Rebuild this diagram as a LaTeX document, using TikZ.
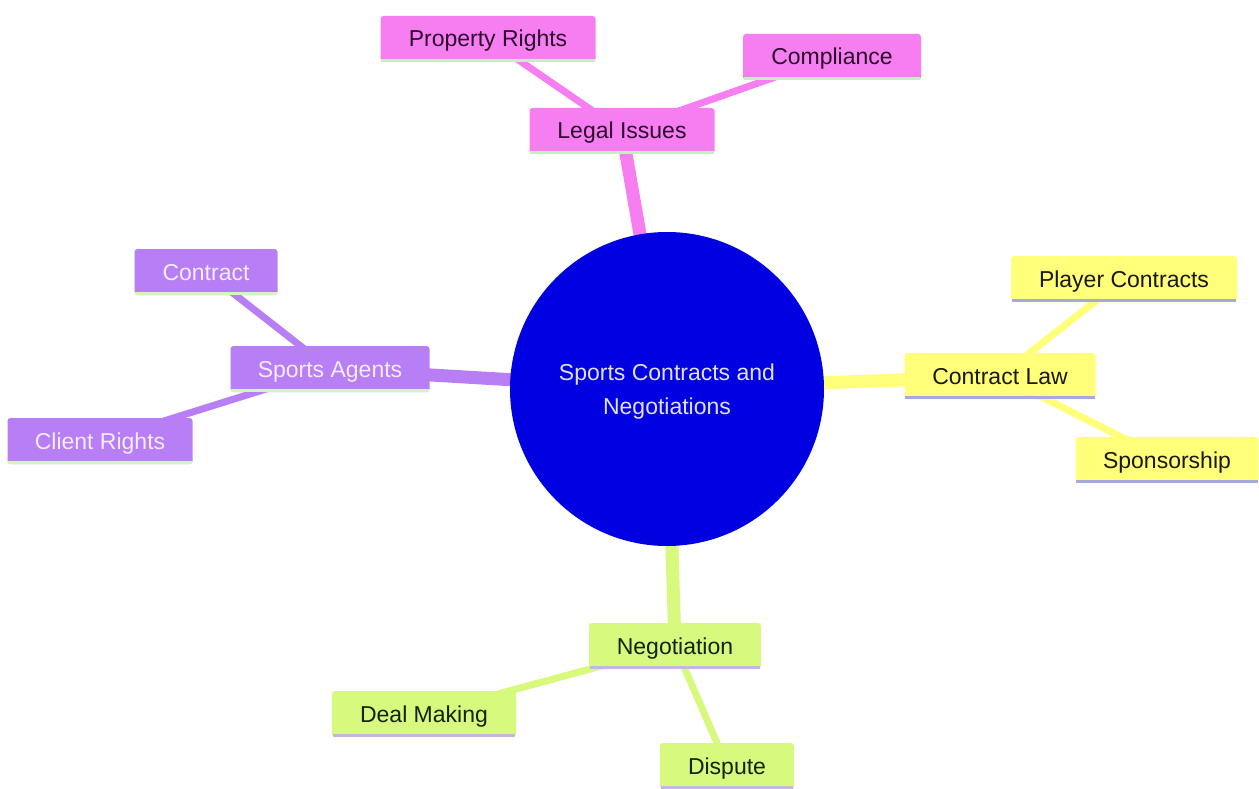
\documentclass[tikz,border=0pt]{standalone}
\usepackage{fontspec}
\setmainfont{Liberation Sans}
\definecolor{rootblue}{RGB}{0,0,224}
\definecolor{roottext}{RGB}{225,225,255}
\definecolor{pinkc}{RGB}{246,126,240}
\definecolor{purplec}{RGB}{183,126,246}
\definecolor{yellowc}{RGB}{255,255,122}
\definecolor{greenc}{RGB}{214,249,126}
\definecolor{pinkul}{RGB}{196,240,190}
\definecolor{purpleul}{RGB}{214,245,190}
\definecolor{yellowul}{RGB}{168,168,224}
\definecolor{greenul}{RGB}{200,180,226}
\definecolor{darkpink}{RGB}{45,8,45}
\definecolor{lightpurple}{RGB}{245,236,255}
\definecolor{darkyellow}{RGB}{25,25,5}
\definecolor{darkgreen}{RGB}{20,35,10}
\pgfdeclarelayer{bg}
\pgfsetlayers{bg,main}
\begin{document}
\begin{tikzpicture}[x=1pt,y=-1pt,
  every node/.style={font=\fontsize{23}{27}\selectfont},
  box/.style n args={3}{rectangle, rounded corners=3pt, fill=#1, text=#2, minimum height=46pt, minimum width=#3, inner sep=0pt, text height=20pt, text depth=4pt},
  pinkbox/.style={box={pinkc}{darkpink}{#1}},
  purplebox/.style={box={purplec}{lightpurple}{#1}},
  yellowbox/.style={box={yellowc}{darkyellow}{#1}},
  greenbox/.style={box={greenc}{darkgreen}{#1}},
  ul/.style={draw=#1, line width=3.5pt},
  thick1/.style={line width=13pt, draw=#1},
  thick2/.style={line width=7pt, draw=#1}]
\useasboundingbox (0,0) rectangle (1259,789);
% nodes
\node[circle, fill=rootblue, minimum size=314pt, inner sep=0pt] (root) at (667,389) {};
\node[text=roottext, align=center] (roottxt) at (667,392) {Sports Contracts and\\[7pt]Negotiations};
\node[pinkbox=185pt] (legal) at (622,131) {Legal Issues};
\node[pinkbox=215pt] (prop) at (488,39) {Property Rights};
\node[pinkbox=178pt] (comp) at (832,57) {Compliance};
\node[purplebox=199pt] (agents) at (330,369) {Sports Agents};
\node[purplebox=143pt] (contract) at (206,272) {Contract};
\node[purplebox=185pt] (client) at (100,441) {Client Rights};
\node[yellowbox=191pt] (law) at (1000,376) {Contract Law};
\node[yellowbox=226pt] (player) at (1124,279) {Player Contracts};
\node[yellowbox=183pt] (spons) at (1167,460) {Sponsorship};
\node[greenbox=172pt] (neg) at (675,646) {Negotiation};
\node[greenbox=184pt] (deal) at (424,714) {Deal Making};
\node[greenbox=134pt] (disp) at (727,766) {Dispute};
% underlines
\draw[ul=pinkul] ([shift={(1,-1.75)}]legal.south west) -- ([shift={(-1,-1.75)}]legal.south east);
\draw[ul=pinkul] ([shift={(1,-1.75)}]prop.south west) -- ([shift={(-1,-1.75)}]prop.south east);
\draw[ul=pinkul] ([shift={(1,-1.75)}]comp.south west) -- ([shift={(-1,-1.75)}]comp.south east);
\draw[ul=purpleul] ([shift={(1,-1.75)}]agents.south west) -- ([shift={(-1,-1.75)}]agents.south east);
\draw[ul=purpleul] ([shift={(1,-1.75)}]contract.south west) -- ([shift={(-1,-1.75)}]contract.south east);
\draw[ul=purpleul] ([shift={(1,-1.75)}]client.south west) -- ([shift={(-1,-1.75)}]client.south east);
\draw[ul=yellowul] ([shift={(1,-1.75)}]law.south west) -- ([shift={(-1,-1.75)}]law.south east);
\draw[ul=yellowul] ([shift={(1,-1.75)}]player.south west) -- ([shift={(-1,-1.75)}]player.south east);
\draw[ul=yellowul] ([shift={(1,-1.75)}]spons.south west) -- ([shift={(-1,-1.75)}]spons.south east);
\draw[ul=greenul] ([shift={(1,-1.75)}]neg.south west) -- ([shift={(-1,-1.75)}]neg.south east);
\draw[ul=greenul] ([shift={(1,-1.75)}]deal.south west) -- ([shift={(-1,-1.75)}]deal.south east);
\draw[ul=greenul] ([shift={(1,-1.75)}]disp.south west) -- ([shift={(-1,-1.75)}]disp.south east);
% edges behind
\begin{pgfonlayer}{bg}
\draw[thick1=pinkc] (root.center) -- (legal.center);
\draw[thick2=pinkc] (legal.center) -- (prop.center);
\draw[thick2=pinkc] (legal.center) -- (comp.center);
\draw[thick1=purplec] (root.center) -- (agents.center);
\draw[thick2=purplec] (agents.center) -- (contract.center);
\draw[thick2=purplec] (agents.center) -- (client.center);
\draw[thick1=yellowc] (root.center) -- (law.center);
\draw[thick2=yellowc] (law.center) -- (player.center);
\draw[thick2=yellowc] (law.center) -- (spons.center);
\draw[thick1=greenc] (root.center) -- (neg.center);
\draw[thick2=greenc] (neg.center) -- (deal.center);
\draw[thick2=greenc] (neg.center) -- (disp.center);
\end{pgfonlayer}
\end{tikzpicture}
\end{document}
